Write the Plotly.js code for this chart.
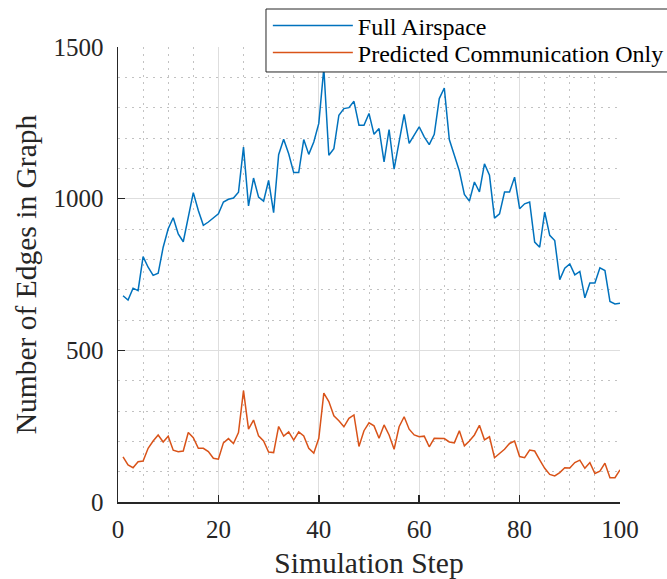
<!DOCTYPE html>
<html>
<head>
<meta charset="utf-8">
<script src="https://cdn.plot.ly/plotly-3.0.1.min.js"></script>
<style>html,body{margin:0;padding:0;background:#fff;}#chart{width:667px;height:579px;}</style>
</head>
<body>
<div id="chart"></div>
<script>
const steps = Array.from({length: 100}, (_, i) => i + 1);
const fullAirspace = [
  680,666,705,697,809,774,747,754,840,901,
  937,884,858,939,1020,961,912,923,937,950,
  989,998,1002,1021,1170,976,1068,1005,992,1060,
  954,1145,1196,1148,1086,1086,1195,1146,1187,1248,
  1430,1143,1165,1275,1297,1300,1321,1242,1242,1281,
  1212,1231,1121,1228,1097,1193,1278,1182,1211,1237,
  1204,1178,1212,1330,1365,1195,1143,1091,1014,992,
  1055,1022,1115,1077,936,950,1022,1022,1071,967,
  983,989,857,840,956,879,862,733,771,785,
  749,760,673,722,722,772,763,661,653,655
];
const predictedComm = [
  149,122,113,133,135,177,201,221,198,217,
  171,166,168,229,212,177,177,166,144,141,
  195,209,193,229,367,240,270,218,201,165,
  163,249,217,231,204,231,218,177,161,210,
  359,331,284,268,248,276,287,183,235,261,
  251,210,254,221,174,248,281,240,221,215,
  217,182,210,210,209,198,195,235,185,201,
  221,253,205,215,146,160,174,193,201,150,
  146,171,168,139,111,91,86,97,113,112,
  130,138,111,130,94,102,128,80,80,106
];
const seriesNames = ['Full Airspace', 'Predicted Communication Only'];
const xTicks = [0, 20, 40, 60, 80, 100];
const yTicks = [0, 500, 1000, 1500];

const FONT = 'Liberation Serif, Times New Roman, serif';
const AX = '#262626';

const traces = [
  {x: steps, y: fullAirspace, type: 'scatter', mode: 'lines', name: seriesNames[0],
   legend: 'legend', line: {color: '#0072BD', width: 1.5}},
  {x: steps, y: predictedComm, type: 'scatter', mode: 'lines', name: seriesNames[1],
   legend: 'legend2', line: {color: '#D95319', width: 1.5}}
];

const legendCommon = {
  xanchor: 'left', yanchor: 'middle', x: 0.2985,
  bgcolor: 'rgba(0,0,0,0)', borderwidth: 0,
  font: {family: FONT, size: 24, color: '#000'},
  itemwidth: 80
};

const layout = {
  width: 667, height: 579,
  margin: {l: 118, r: 47, t: 47, b: 77, autoexpand: false},
  paper_bgcolor: '#fff', plot_bgcolor: '#fff',
  font: {family: FONT, color: '#262626', size: 24},
  showlegend: true,
  legend: Object.assign({}, legendCommon, {y: 1.0462}),
  legend2: Object.assign({}, legendCommon, {y: 0.9868}),
  shapes: [
    {type: 'rect', xref: 'paper', yref: 'paper', x0: 0.2948, x1: 1.2, y0: 0.9451, y1: 1.0835,
     fillcolor: '#fff', line: {color: AX, width: 1}, layer: 'above'}
  ],
  xaxis: {
    range: [0, 100], tickvals: xTicks, ticktext: xTicks.map(String),
    showline: true, linecolor: AX, linewidth: 1.5, mirror: false,
    ticks: 'inside', ticklen: 7, tickwidth: 1.5, tickcolor: AX,
    tickfont: {family: FONT, size: 25, color: '#262626'},
    ticklabelstandoff: 4,
    showgrid: true, gridcolor: '#dedede', gridwidth: 1,
    zeroline: false,
    minor: {dtick: 5, tick0: 0, showgrid: true, gridcolor: '#c2c2c2', griddash: '2px,5px', gridwidth: 1, ticks: ''},
    title: {text: 'Simulation Step', font: {family: FONT, size: 29.5, color: '#262626'}, standoff: 15}
  },
  yaxis: {
    range: [0, 1500], tickvals: yTicks, ticktext: yTicks.map(String),
    showline: true, linecolor: AX, linewidth: 1.5, mirror: false,
    ticks: 'inside', ticklen: 7, tickwidth: 1.5, tickcolor: AX,
    tickfont: {family: FONT, size: 25, color: '#262626'},
    ticklabelstandoff: 8,
    showgrid: true, gridcolor: '#dedede', gridwidth: 1,
    zeroline: false,
    minor: {dtick: 100, tick0: 0, showgrid: true, gridcolor: '#c2c2c2', griddash: '2px,5px', gridwidth: 1, ticks: ''},
    title: {text: 'Number of Edges in Graph', font: {family: FONT, size: 29.5, color: '#262626'}, standoff: 8}
  }
};

Plotly.newPlot('chart', traces, layout, {staticPlot: true, displayModeBar: false});
</script>
</body>
</html>
